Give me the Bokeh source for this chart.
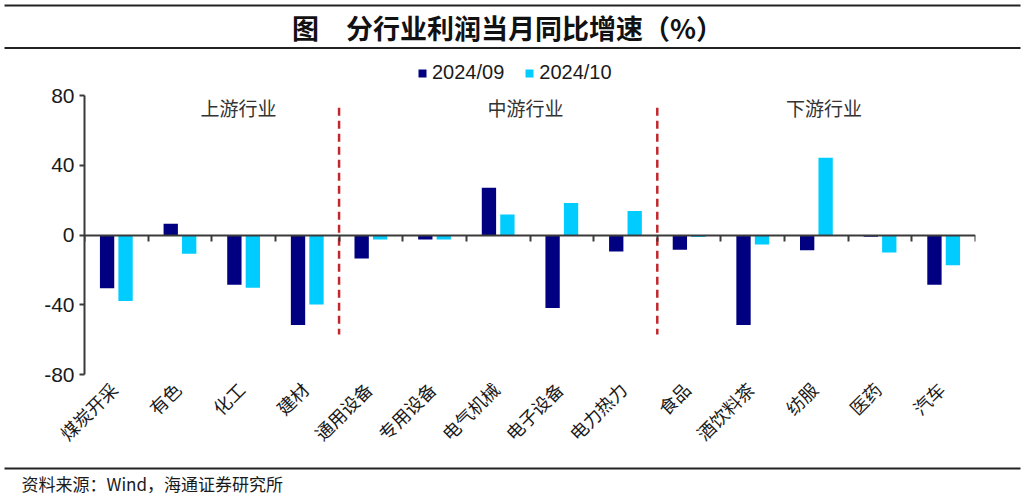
import math
from bokeh.plotting import figure
from bokeh.models import (ColumnDataSource, LinearAxis, FixedTicker, Legend, LegendItem, Range1d)
from bokeh.layouts import column
from bokeh.core.properties import value
from bokeh.embed import file_html
from bokeh.resources import INLINE

# ---------------- data ----------------
categories = ["煤炭开采", "有色", "化工", "建材", "通用设备", "专用设备", "电气机械",
              "电子设备", "电力热力", "食品", "酒饮料茶", "纺服", "医药", "汽车"]
series_names = ["2024/09", "2024/10"]
growth_2024_09 = [-30.6, 6.4, -28.6, -51.6, -13.5, -2.6, 27.1, -41.8, -9.5, -8.5, -51.6, -8.7, -1.0, -28.6]
growth_2024_10 = [-37.8, -10.8, -30.2, -39.9, -2.6, -2.6, 11.8, 18.3, 13.7, -1.2, -5.5, 44.3, -10.0, -17.3]
group_names = ["上游行业", "中游行业", "下游行业"]
group_sizes = [4, 5, 5]
y_ticks = [-80, -40, 0, 40, 80]
y_tick_labels = ["-80", "-40", "0", "40", "80"]
title_text = "图　分行业利润当月同比增速（%）"
source_text = "资料来源：Wind，海通证券研究所"

# ---------------- styles ----------------
DARK = "#000080"
LIGHT = "#00CCFF"
RED = "#C0282D"
AXIS = "#3a3a3a"
TXT = "#1a1a1a"
RULE = "#222222"
CJK = "Noto Sans CJK SC"
LAT = "Liberation Sans"

W = 1024
TOP_H, MAIN_H, BOT_H = 85, 379, 32
FRAME_L, FRAME_R, FRAME_T, FRAME_B = 84, 975, 95, 374   # page px


def blank(h):
    f = figure(width=W, height=h, output_backend="svg", toolbar_location=None,
               x_axis_location=None, y_axis_location=None,
               x_range=Range1d(0, W), y_range=Range1d(h, 0),
               min_border=0, min_border_left=0, min_border_right=0,
               min_border_top=0, min_border_bottom=0, frame_align=False)
    f.outline_line_color = None
    f.xgrid.visible = False
    f.ygrid.visible = False
    return f


# ---------------- top: rules, title, legend ----------------
top = blank(TOP_H)
top.segment(x0=[4, 4], y0=[5, 47.5], x1=[1020, 1020], y1=[5, 47.5],
            line_color=RULE, line_width=2.2)
top.text(x=[507], y=[27], text=[title_text], text_align="center", text_baseline="middle",
         text_font=value(CJK), text_font_size="27px", text_font_style="bold", text_color="#111111")
# legend proxies (zero-height, placed outside the visible range)
d09 = top.vbar(x=[-500], top=[0], bottom=[0], width=1, fill_color=DARK, line_color=None)
d10 = top.vbar(x=[-500], top=[0], bottom=[0], width=1, fill_color=LIGHT, line_color=None)
legend = Legend(items=[LegendItem(label=series_names[0], renderers=[d09]),
                       LegendItem(label=series_names[1], renderers=[d10])],
                location=(417, 1), orientation="horizontal")
legend.glyph_width = 10
legend.glyph_height = 10
legend.label_standoff = 5
legend.spacing = 20
legend.padding = 0
legend.margin = 0
legend.border_line_color = None
legend.background_fill_alpha = 0
legend.label_text_font = LAT
legend.label_text_font_size = "20px"
legend.label_text_color = TXT
legend.label_height = 22
top.add_layout(legend, "center")

# ---------------- main chart ----------------
n = len(categories)
p = figure(width=W, height=MAIN_H, output_backend="svg", toolbar_location=None,
           x_axis_location=None, y_axis_location="left",
           x_range=Range1d(0, n), y_range=Range1d(-80, 80),
           min_border_left=FRAME_L, min_border_right=W - FRAME_R,
           min_border_top=FRAME_T - TOP_H, min_border_bottom=TOP_H + MAIN_H - FRAME_B,
           frame_align=False)
p.outline_line_color = None
p.xgrid.visible = False
p.ygrid.visible = False

off = 0.145
bw = 0.225
src = ColumnDataSource(dict(
    x09=[i + 0.5 - off for i in range(n)],
    x10=[i + 0.5 + off for i in range(n)],
    v09=growth_2024_09, v10=growth_2024_10))
p.vbar(x="x09", top="v09", bottom=0, width=bw, source=src, fill_color=DARK, line_color=None)
p.vbar(x="x10", top="v10", bottom=0, width=bw, source=src, fill_color=LIGHT, line_color=None)

# group dividers
bounds = []
acc = 0
for s in group_sizes[:-1]:
    acc += s
    bounds.append(acc)
p.segment(x0=bounds, y0=[73] * len(bounds), x1=bounds, y1=[-57] * len(bounds),
          line_color=RED, line_width=2.5, line_dash="8 5")

# group labels
starts = [0]
for s in group_sizes[:-1]:
    starts.append(starts[-1] + s)
gx = [st + s / 2 for st, s in zip(starts, group_sizes)]
gx = [gx[0] + 0.42, gx[1] + 0.43, gx[2] + 0.12]
p.text(x=gx, y=[73] * len(gx), text=group_names, text_align="center", text_baseline="middle",
       text_font=value(CJK), text_font_size="19px", text_color="#333333")

# y axis
ya = p.yaxis[0]
ya.ticker = FixedTicker(ticks=y_ticks)
ya.major_label_overrides = {t: s for t, s in zip(y_ticks, y_tick_labels)}
ya.axis_line_color = AXIS
ya.axis_line_width = 2
ya.major_tick_line_color = AXIS
ya.major_tick_line_width = 2
ya.major_tick_in = 0
ya.major_tick_out = 5
ya.minor_tick_line_color = None
ya.major_label_text_font = LAT
ya.major_label_text_font_size = "21px"
ya.major_label_text_color = TXT
ya.major_label_standoff = 5

# zero line with ticks at category boundaries (panel nearest the frame)
za = LinearAxis(fixed_location=0, ticker=FixedTicker(ticks=list(range(n + 1))),
                major_label_overrides={i: "" for i in range(n + 1)})
za.axis_line_color = AXIS
za.axis_line_width = 2
za.major_tick_line_color = AXIS
za.major_tick_line_width = 2
za.major_tick_in = 0
za.major_tick_out = 6
za.minor_tick_line_color = None
za.major_label_text_font_size = "1px"
za.major_label_standoff = 0
p.add_layout(za, "below")

# category labels below the frame
centers = [i + 0.5 for i in range(n)]
label_ticks = [c - 0.04 for c in centers]
xa = LinearAxis(ticker=FixedTicker(ticks=label_ticks),
                major_label_overrides={c: name for c, name in zip(label_ticks, categories)})
xa.axis_line_color = None
xa.major_tick_line_color = None
xa.minor_tick_line_color = None
xa.major_tick_in = 0
xa.major_tick_out = 0
xa.major_label_orientation = math.pi / 4
xa.major_label_text_font = CJK
xa.major_label_text_font_size = "18px"
xa.major_label_text_color = TXT
xa.major_label_standoff = 11
p.add_layout(xa, "below")

# ---------------- bottom: rule and source ----------------
bot = blank(BOT_H)
bot.segment(x0=[4], y0=[4], x1=[1020], y1=[4], line_color=RULE, line_width=2.2)
bot.text(x=[21], y=[19], text=[source_text], text_align="left", text_baseline="middle",
         text_font=value(CJK), text_font_size="17px", text_color=TXT)

layout = column(top, p, bot, spacing=0)
open("out.html", "w").write(file_html(layout, INLINE))
